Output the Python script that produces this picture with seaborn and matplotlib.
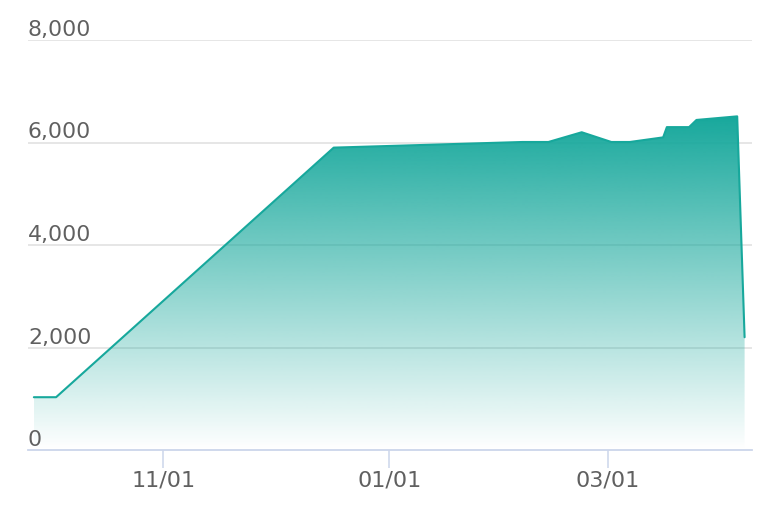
import numpy as np
import pandas as pd
import matplotlib.pyplot as plt
import matplotlib.dates as mdates
import seaborn as sns
from matplotlib.ticker import FixedLocator

# series
dates = ["2020-09-27", "2020-10-03", "2020-12-17", "2021-02-06", "2021-02-13",
         "2021-02-22", "2021-03-02", "2021-03-07", "2021-03-16", "2021-03-17",
         "2021-03-23", "2021-03-25", "2021-04-05", "2021-04-07"]
values = [1030, 1030, 5900, 6010, 6010,
          6200, 6010, 6010, 6100, 6300,
          6300, 6440, 6510, 2200]

y_ticks = [0, 2000, 4000, 6000, 8000]
x_ticks = ["2020-11-01", "2021-01-01", "2021-03-01"]
x_labels = ["11/01", "01/01", "03/01"]

teal = "#17a89c"
text_color = "#606060"
axis_color = "#ccd6eb"
grid_color = "#e2e2e2"


def main():
    sns.set_theme(style="white")
    plt.rcParams["font.family"] = ["DejaVu Sans"]

    df = pd.DataFrame({"date": pd.to_datetime(dates), "value": values})

    fig = plt.figure(figsize=(7.72, 5.14), dpi=100)
    ax = fig.add_axes([28 / 772, 1 - 450 / 514, 724 / 772, 410 / 514])

    x0 = mdates.date2num(pd.Timestamp("2020-09-25 10:00"))
    x1 = mdates.date2num(pd.Timestamp("2021-04-09 00:00"))

    # gridlines
    for v in y_ticks[1:]:
        ax.axhline(v, color=grid_color, lw=1.2, zorder=0)

    # gradient fill under the line
    xs = mdates.date2num(df["date"])
    poly = ax.fill_between(xs, df["value"], 0, color="none", lw=0)
    top = max(values)
    grad = np.linspace(1, 0, 256).reshape(-1, 1)
    rgba = np.zeros((256, 1, 4))
    rgba[..., :3] = np.array([23, 168, 156]) / 255
    rgba[..., 3] = grad
    img = ax.imshow(rgba, extent=[xs.min(), xs.max(), 0, top], aspect="auto",
                    origin="upper", zorder=1, interpolation="bilinear")
    img.set_clip_path(poly.get_paths()[0], transform=ax.transData)

    sns.lineplot(data=df, x="date", y="value", ax=ax, color=teal, lw=1.5,
                 zorder=3, legend=False)
    ax.set_xlim(x0, x1)
    ax.set_ylim(0, 8000)

    # spines & ticks
    for s in ["top", "right", "left"]:
        ax.spines[s].set_visible(False)
    ax.spines["bottom"].set_color(axis_color)
    ax.spines["bottom"].set_linewidth(1.3)

    ax.xaxis.set_major_locator(FixedLocator(mdates.date2num(pd.to_datetime(x_ticks))))
    ax.set_xticklabels(x_labels)
    ax.tick_params(axis="x", direction="out", length=13, width=1.1, color=axis_color,
                   labelsize=16, labelcolor=text_color, pad=2, bottom=True)
    ax.set_yticks([])
    ax.set_xlabel("")
    ax.set_ylabel("")

    for v in y_ticks:
        ax.text(0, v, f"{v:,}", transform=ax.get_yaxis_transform(), ha="left",
                va="bottom", fontsize=15.8, color=text_color, zorder=4)

    fig.savefig("out.png", dpi=100)


if __name__ == "__main__":
    main()
